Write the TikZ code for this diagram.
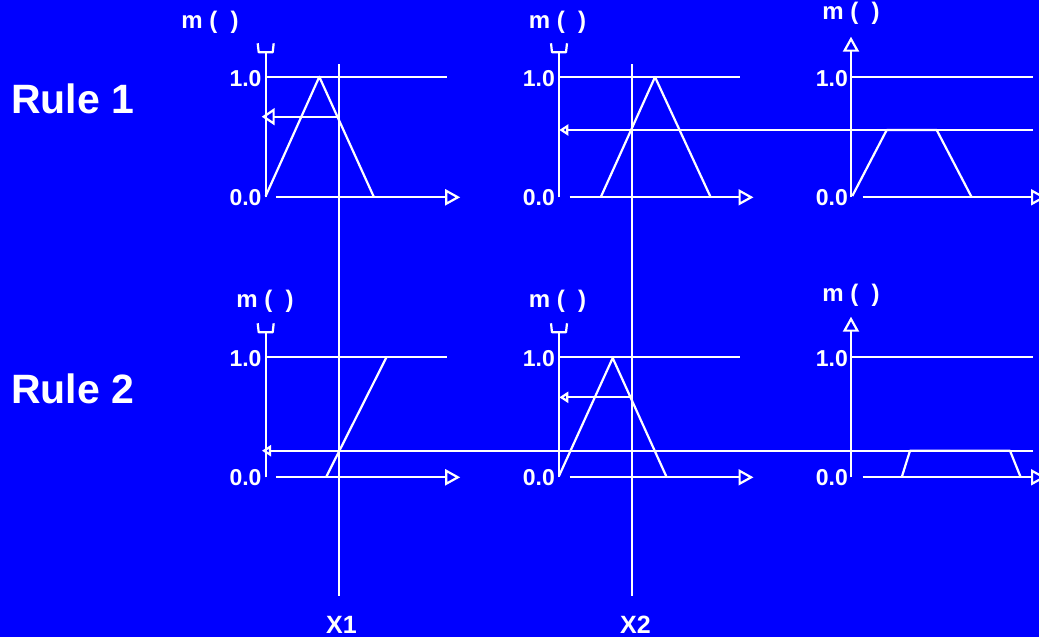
\documentclass[tikz,border=0pt]{standalone}
\usepackage{fontspec}
\setmainfont{Liberation Sans}
\usetikzlibrary{arrows.meta}
\definecolor{slideblue}{RGB}{0,0,255}

\begin{document}
\begin{tikzpicture}[
  x=1pt, y=-1pt,
  wire/.style={draw=white, line width=2.2pt},
  axisarrow/.style={wire, -{Triangle[open, length=15pt, width=16pt]}},
  bigback/.style={wire, -{Triangle[open, length=13pt, width=17pt]}},
  smallback/.style={wire, -{Triangle[open, length=9pt, width=11pt]}},
  rulelbl/.style={text=white, inner sep=0pt, anchor=base west, font=\fontsize{41}{48}\selectfont\bfseries},
  varlbl/.style={text=white, inner sep=0pt, anchor=base west, font=\fontsize{25}{30}\selectfont\bfseries},
  mulbl/.style={text=white, inner sep=0pt, font=\fontsize{24}{28}\selectfont\bfseries},
  ticklbl/.style={text=white, inner sep=0pt, anchor=base east, font=\fontsize{23}{28}\selectfont\bfseries}
]

  \useasboundingbox (0,0) rectangle (1039,637);
  \fill[slideblue] (0,0) rectangle (1039,637);
  \clip (0,0) rectangle (1039,637);

  % row titles
  \node[rulelbl] (rule1) at (11,113) {Rule 1};
  \node[rulelbl] (rule2) at (11,403) {Rule 2};

  % antecedent panels
  \foreach \ox/\oy in {265.7/197.3, 559/197.3, 265.7/477.3, 559/477.3} {
    \begin{scope}[shift={(\ox,\oy)}]
      \draw[wire] (0,0) -- (0,-145);
      \draw[wire, line join=round] (-8,-154) -- (-7,-145) -- (7,-145) -- (8,-154);
      \draw[wire] (0,-120.5) -- (181,-120.5);
      \draw[axisarrow] (10.5,0) -- (194.5,0);
      \node[ticklbl] at (-4,-111) {1.0};
      \node[ticklbl] at (-4,8) {0.0};
    \end{scope}
  }

  % consequent panels
  \foreach \ox/\oy in {851/197.3, 851/477.3} {
    \begin{scope}[shift={(\ox,\oy)}]
      \draw[axisarrow] (0,0) -- (0,-160.6);
      \draw[wire] (0,-120.5) -- (181.7,-120.5);
      \draw[axisarrow] (11.7,0) -- (195,0);
      \node[ticklbl] at (-3,-111) {1.0};
      \node[ticklbl] at (-3,8) {0.0};
    \end{scope}
  }

  % axis titles
  \node[mulbl] (muA) at (210,22.5) {m (\ \ )};
  \node[mulbl] (muB) at (557.5,22.5) {m (\ \ )};
  \node[mulbl] (muC) at (851,13) {m (\ \ )};
  \node[mulbl] (muD) at (265,301.5) {m (\ \ )};
  \node[mulbl] (muE) at (557.5,301.5) {m (\ \ )};
  \node[mulbl] (muF) at (851,295) {m (\ \ )};

  % membership functions
  \draw[wire, line join=round] (265.7,196) -- (319.3,76.8) -- (374,197.3);
  \draw[wire, line join=round] (600.7,197.3) -- (655,77) -- (710.7,197.3);
  \draw[wire, line join=round] (852.3,196) -- (886.7,130) -- (936.7,130) -- (971.7,197.3);
  \draw[wire, line join=round] (326,477.3) -- (386.7,356.8);
  \draw[wire, line join=round] (559,476) -- (612.7,358) -- (666.7,477.3);
  \draw[wire, line join=round] (901.7,477.3) -- (910,450.7) -- (1010,450.7) -- (1020.7,477.3);

  % crisp inputs
  \coordinate (x1top) at (339,64);
  \coordinate (x1bot) at (339,596);
  \coordinate (x2top) at (631.7,64);
  \coordinate (x2bot) at (631.7,596);
  \draw[wire] (x1top) -- (x1bot);
  \draw[wire] (x2top) -- (x2bot);
  \node[varlbl] (x1lbl) at (326,633) {X1};
  \node[varlbl] (x2lbl) at (620,633) {X2};

  % firing levels
  \coordinate (a1) at (339,116.7);
  \coordinate (a1end) at (261.7,116.7);
  \coordinate (b1) at (1033,130);
  \coordinate (b1end) at (559.3,130);
  \coordinate (b2) at (631.7,397.3);
  \coordinate (b2end) at (559.3,397.3);
  \coordinate (a2) at (1033,450.7);
  \coordinate (a2end) at (262,450.7);
  \draw[bigback] (a1) -- (a1end);
  \draw[smallback] (b1) -- (b1end);
  \draw[smallback] (b2) -- (b2end);
  \draw[smallback] (a2) -- (a2end);

\end{tikzpicture}
\end{document}
